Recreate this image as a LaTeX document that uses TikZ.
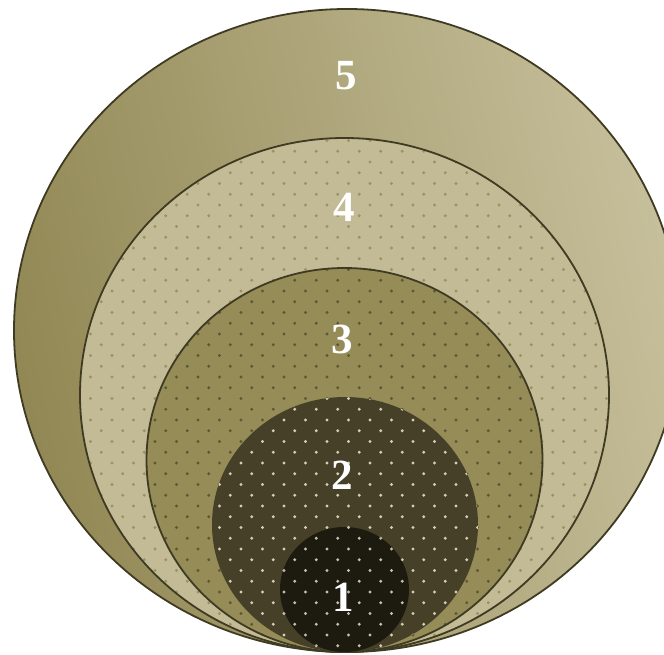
\documentclass[tikz,border=0pt]{standalone}
\usepackage{fontspec}
\setmainfont{Liberation Serif}
\definecolor{ringline}{HTML}{3F3A22}
\definecolor{outerL}{HTML}{928855}
\definecolor{outerR}{HTML}{C6BF9B}
\definecolor{fillfour}{HTML}{C3BB96}
\definecolor{dotfour}{HTML}{9A9263}
\definecolor{fillthree}{HTML}{958C58}
\definecolor{dotthree}{HTML}{5C5736}
\definecolor{filltwo}{HTML}{464029}
\definecolor{dottwo}{HTML}{D4CEB4}
\definecolor{fillone}{HTML}{1D1B10}
\definecolor{dotone}{HTML}{C4C0AA}
\newcommand\dotlayer[5]{%
  \begin{scope}
    \clip (#1,#2) ellipse [x radius=#3pt, y radius=#4pt];
    \pgfmathtruncatemacro\rmin{floor((#2-#4-183.5)/10.75)-1}
    \pgfmathtruncatemacro\rmax{ceil((#2+#4-183.5)/10.75)+1}
    \pgfmathtruncatemacro\cmin{floor((#1-#3-305.5)/21.5)-1}
    \pgfmathtruncatemacro\cmax{ceil((#1+#3-305.5)/21.5)+1}
    \foreach \r in {\rmin,...,\rmax}{
      \pgfmathtruncatemacro\prt{mod(\r+200,2)}
      \foreach \c in {\cmin,...,\cmax}{
        \fill[#5] ({305.5+21.5*\c+10.75*\prt},{183.5+10.75*\r}) circle[radius=1.6pt];
      }
    }
  \end{scope}}
\tikzset{
  ring/.style={draw=ringline, line width=1.8pt},
  numlabel/.style={text=white, font=\fontsize{43}{43}\selectfont\bfseries, inner sep=0pt}
}
\begin{document}
\begin{tikzpicture}[x=1pt,y=-1pt]
\useasboundingbox (0,0) rectangle (664,655);
% ring 5
\shade[left color=outerL, right color=outerR, shading angle=102] (347,330.5) ellipse [x radius=333pt, y radius=321.5pt];
\draw[ring] (347,330.5) ellipse [x radius=333pt, y radius=321.5pt];
% ring 4
\fill[fillfour] (344.5,395) ellipse [x radius=264.5pt, y radius=257pt];
\dotlayer{344.5}{395}{264.5}{257}{dotfour}
\draw[ring] (344.5,395) ellipse [x radius=264.5pt, y radius=257pt];
% ring 3
\fill[fillthree] (344.5,460) ellipse [x radius=198pt, y radius=192pt];
\dotlayer{344.5}{460}{198}{192}{dotthree}
\draw[ring] (344.5,460) ellipse [x radius=198pt, y radius=192pt];
% ring 2
\fill[filltwo] (345,524.5) ellipse [x radius=133pt, y radius=127.5pt];
\dotlayer{345}{524.5}{133}{127.5}{dottwo}
% ring 1
\fill[fillone] (344.5,589.5) ellipse [x radius=64.5pt, y radius=62.5pt];
\dotlayer{344.5}{589.5}{64.5}{62.5}{dotone}
% labels
\node[numlabel] (l5) at (346,76) {5};
\node[numlabel] (l4) at (344,207) {4};
\node[numlabel] (l3) at (342,339) {3};
\node[numlabel] (l2) at (342,475) {2};
\node[numlabel] (l1) at (343,597) {1};
\end{tikzpicture}
\end{document}
